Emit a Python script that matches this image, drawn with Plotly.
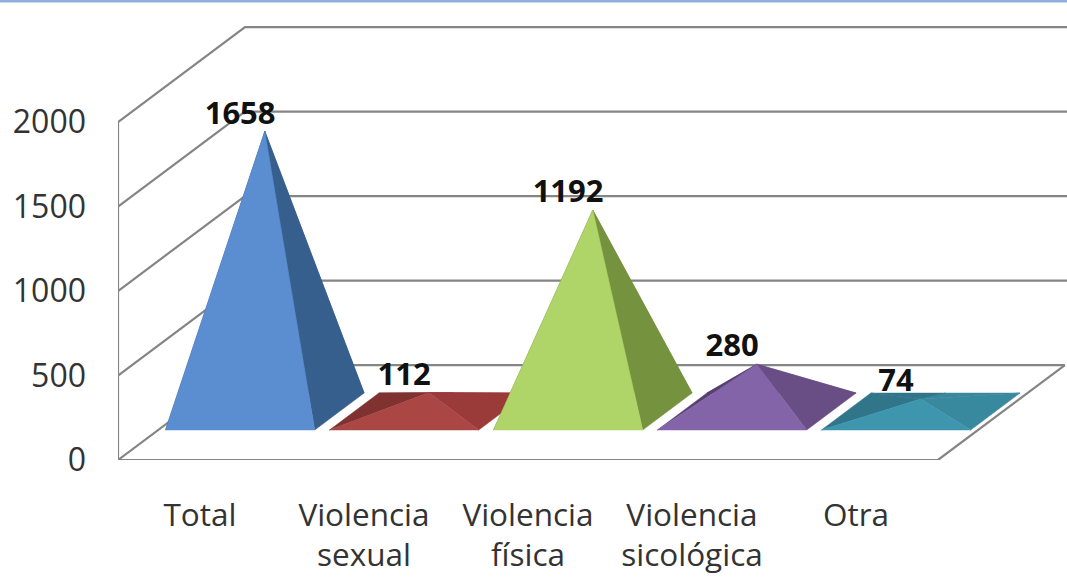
import plotly.graph_objects as go

# Casos por tipo de violencia
categories = ["Total", "Violencia<br>sexual", "Violencia<br>física", "Violencia<br>sicológica", "Otra"]
values = [1658, 112, 1192, 280, 74]
value_ticks = [0, 500, 1000, 1500, 2000]

front_colors = ["#5B8ED1", "#AA4643", "#AFD467", "#8464A8", "#3D96AE"]
side_colors = ["#375F8D", "#9A3B39", "#75923F", "#694D85", "#39899E"]
shadow_colors = ["#2F5279", "#7F3230", "#64803A", "#57406F", "#31758A"]

FONT = "Open Sans"
TEXT = "#333333"
GRID = "#858585"

# Oblique projection of the 3-D box onto the value/category plane
DEPTH_X = 0.7744   # category units per full depth
DEPTH_Y = 562.0    # value units per full depth
PYRAMID_WIDTH = 0.91
BASE_FRONT = 0.316
BASE_BACK = 0.705
FLOOR_LEFT, FLOOR_RIGHT = -0.5, 4.5
WALL_OVERRUN = 0.02


def project(x, depth, z):
    return x + depth * DEPTH_X, z + depth * DEPTH_Y


def polygon(points, color):
    coords = [project(*p) for p in points]
    coords.append(coords[0])
    return go.Scatter(
        x=[c[0] for c in coords], y=[c[1] for c in coords],
        mode="lines", fill="toself", fillcolor=color,
        line=dict(color=color, width=0.5), hoverinfo="skip", showlegend=False,
    )


def line(points, width=2.2):
    coords = [project(*p) for p in points]
    return go.Scatter(
        x=[c[0] for c in coords], y=[c[1] for c in coords],
        mode="lines", line=dict(color=GRID, width=width),
        hoverinfo="skip", showlegend=False, cliponaxis=False,
    )


fig = go.Figure()

# Walls and floor of the box
for tick in value_ticks:
    end = FLOOR_RIGHT if tick == 0 else FLOOR_RIGHT + WALL_OVERRUN
    fig.add_trace(line([(FLOOR_LEFT, 0, tick), (FLOOR_LEFT, 1, tick), (end, 1, tick)]))
fig.add_trace(line([(FLOOR_LEFT, 0, 0), (FLOOR_LEFT, 0, value_ticks[-1])]))
fig.add_trace(line([(FLOOR_LEFT, 0, 0), (FLOOR_RIGHT, 0, 0), (FLOOR_RIGHT, 1, 0)]))

# Pyramids, back faces first
for i, v in enumerate(values):
    xl, xr = i - PYRAMID_WIDTH / 2, i + PYRAMID_WIDTH / 2
    mid = (BASE_FRONT + BASE_BACK) / 2
    apex = (i, mid, v)
    fl, fr = (xl, BASE_FRONT, 0), (xr, BASE_FRONT, 0)
    bl, br = (xl, BASE_BACK, 0), (xr, BASE_BACK, 0)
    bm = (i, BASE_BACK, 0)
    fig.add_trace(polygon([br, bm, apex], side_colors[i]))
    fig.add_trace(polygon([bl, bm, apex], shadow_colors[i]))
    fig.add_trace(polygon([fl, bl, apex], shadow_colors[i]))
    fig.add_trace(polygon([fr, br, apex], side_colors[i]))
    fig.add_trace(polygon([fl, fr, apex], front_colors[i]))

# Value labels above each apex
label_pos = [project(i, BASE_FRONT, 0)[0] for i in range(len(values))]
label_y = [project(i, (BASE_FRONT + BASE_BACK) / 2, v)[1] for i, v in enumerate(values)]
fig.add_trace(go.Scatter(
    x=label_pos, y=label_y, mode="text", text=[str(v) for v in values],
    textposition="top center", cliponaxis=False,
    textfont=dict(family=FONT, size=31, color="#111111", weight="bold"),
    hoverinfo="skip", showlegend=False,
))

PLOT_LEFT, PLOT_BOTTOM = 118, 119
fig.update_layout(
    width=1067, height=579, autosize=False,
    margin=dict(l=PLOT_LEFT, r=0, t=0, b=PLOT_BOTTOM, autoexpand=False),
    paper_bgcolor="white", plot_bgcolor="white",
    font=dict(family=FONT, size=31, color=TEXT),
    showlegend=False,
    xaxis=dict(
        range=[-0.5, 5.287], tickmode="array",
        tickvals=list(range(len(categories))), ticktext=categories,
        tickfont=dict(size=31.5),
        showgrid=False, zeroline=False, showline=False, ticks="",
        ticklabelstandoff=33, tickangle=0,
    ),
    yaxis=dict(
        range=[0, 2722], tickmode="array",
        tickvals=value_ticks, ticktext=[str(t) for t in value_ticks],
        tickfont=dict(size=32),
        showgrid=False, zeroline=False, showline=False, ticks="",
        ticklabelstandoff=31,
    ),
    shapes=[dict(
        type="line", xref="paper", yref="paper",
        x0=-PLOT_LEFT / 949, x1=1, y0=0.998, y1=0.998,
        line=dict(color="#8FB0DC", width=3),
    )],
)

fig.write_html("out.html")
